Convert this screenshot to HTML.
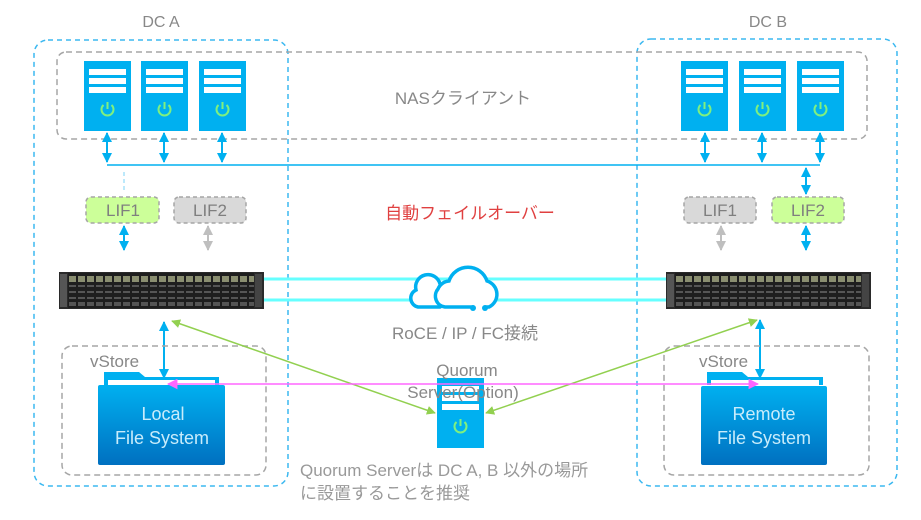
<!DOCTYPE html>
<html><head><meta charset="utf-8"><style>
html,body{margin:0;padding:0;background:#fff;}
svg{display:block;}
text{font-family:"Liberation Sans","Noto Sans CJK JP",sans-serif;}
</style></head><body>
<svg width="921" height="520" viewBox="0 0 921 520" xmlns="http://www.w3.org/2000/svg">
<defs>
  <marker id="ab" viewBox="0 0 10 10" refX="9" refY="5" markerWidth="5" markerHeight="5" orient="auto-start-reverse"><path d="M0,0L10,5L0,10z" fill="#00b0f0"/></marker>
  <marker id="ag" viewBox="0 0 10 10" refX="9" refY="5" markerWidth="5" markerHeight="5" orient="auto-start-reverse"><path d="M0,0L10,5L0,10z" fill="#bfbfbf"/></marker>
  <marker id="agr" viewBox="0 0 10 10" refX="9" refY="5" markerWidth="6" markerHeight="6" orient="auto-start-reverse"><path d="M0,0L10,5L0,10z" fill="#92d050"/></marker>
  <marker id="am" viewBox="0 0 10 10" refX="9" refY="5" markerWidth="7" markerHeight="7" orient="auto-start-reverse"><path d="M0,0L10,5L0,10z" fill="#ff66ff"/></marker>
  <linearGradient id="fg" x1="0" y1="0" x2="0" y2="1"><stop offset="0" stop-color="#00b0f0"/><stop offset="1" stop-color="#0070c0"/></linearGradient>
  <g id="srv">
    <rect x="0" y="0" width="47" height="70" fill="#00b0f0"/>
    <rect x="5" y="8" width="37" height="6" fill="#fff"/>
    <rect x="5" y="17" width="37" height="6" fill="#fff"/>
    <rect x="5" y="26" width="37" height="6" fill="#fff"/>
    <path d="M19.5,44 A6,6 0 1 0 27.5,44" fill="none" stroke="#7ff07f" stroke-width="2"/>
    <line x1="23.5" y1="41" x2="23.5" y2="48" stroke="#7ff07f" stroke-width="2"/>
  </g>
  <pattern id="disk" x="0" y="0" width="9" height="37" patternUnits="userSpaceOnUse">
    <rect width="9" height="37" fill="#1e1e1e"/>
    <rect x="1" y="4" width="7" height="6" fill="#8a8e70"/>
    <rect x="1" y="13" width="7" height="2" fill="#555"/>
    <rect x="1" y="19" width="7" height="2" fill="#555"/>
    <rect x="1" y="25" width="7" height="2" fill="#555"/>
    <rect x="1" y="30" width="7" height="4" fill="#555"/>
  </pattern>
  <g id="arr">
    <rect x="0" y="0" width="205" height="37" fill="#2a2a2a"/>
    <rect x="9" y="1" width="186" height="35" fill="url(#disk)"/>
    <rect x="1" y="2" width="7" height="33" fill="#555"/>
    <rect x="196" y="2" width="7" height="33" fill="#444"/>
  </g>
</defs>

<rect x="34" y="40" width="254" height="446" rx="14" fill="none" stroke="#3bb8f0" stroke-width="1.5" stroke-dasharray="5,4"/>
<rect x="637" y="39" width="260" height="447" rx="14" fill="none" stroke="#3bb8f0" stroke-width="1.5" stroke-dasharray="5,4"/>
<text x="161" y="27" font-size="16" fill="#888" text-anchor="middle">DC A</text>
<text x="768" y="27" font-size="16" fill="#888" text-anchor="middle">DC B</text>

<rect x="57" y="52" width="810" height="87" rx="9" fill="none" stroke="#a6a6a6" stroke-width="1.5" stroke-dasharray="6,4"/>
<text x="463" y="104" font-size="17" fill="#888" text-anchor="middle">NASクライアント</text>

<use href="#srv" x="84" y="61"/><use href="#srv" x="141" y="61"/><use href="#srv" x="199" y="61"/>
<use href="#srv" x="681" y="61"/><use href="#srv" x="739" y="61"/><use href="#srv" x="797" y="61"/>

<g stroke="#00b0f0" stroke-width="2" marker-start="url(#ab)" marker-end="url(#ab)">
  <line x1="107" y1="133" x2="107" y2="162"/><line x1="164" y1="133" x2="164" y2="162"/><line x1="222" y1="133" x2="222" y2="162"/>
  <line x1="705" y1="133" x2="705" y2="162"/><line x1="762" y1="133" x2="762" y2="162"/><line x1="820" y1="133" x2="820" y2="162"/>
  <line x1="806" y1="168" x2="806" y2="194"/>
  <line x1="124" y1="226" x2="124" y2="250"/><line x1="721" y1="226" x2="721" y2="250" stroke="#bfbfbf" marker-start="url(#ag)" marker-end="url(#ag)"/>
  <line x1="806" y1="226" x2="806" y2="250"/>
  <line x1="208" y1="226" x2="208" y2="250" stroke="#bfbfbf" marker-start="url(#ag)" marker-end="url(#ag)"/>
  <line x1="164" y1="322" x2="164" y2="378"/><line x1="760" y1="320" x2="760" y2="378"/>
</g>
<line x1="107" y1="165" x2="820" y2="165" stroke="#00b0f0" stroke-width="1.5"/>
<line x1="124" y1="172" x2="124" y2="190" stroke="#bde9fb" stroke-width="2" stroke-dasharray="4,3"/>

<rect x="86" y="197" width="73" height="26" rx="5" fill="#ccff99" stroke="#a6a6a6" stroke-width="1.5" stroke-dasharray="4,3"/>
<rect x="174" y="197" width="72" height="26" rx="5" fill="#d9d9d9" stroke="#a6a6a6" stroke-width="1.5" stroke-dasharray="4,3"/>
<rect x="684" y="197" width="72" height="26" rx="5" fill="#d9d9d9" stroke="#a6a6a6" stroke-width="1.5" stroke-dasharray="4,3"/>
<rect x="772" y="197" width="72" height="26" rx="5" fill="#ccff99" stroke="#a6a6a6" stroke-width="1.5" stroke-dasharray="4,3"/>
<g font-size="17" fill="#7f7f7f" text-anchor="middle">
<text x="123" y="216">LIF1</text><text x="210" y="216">LIF2</text><text x="720" y="216">LIF1</text><text x="808" y="216">LIF2</text>
</g>
<text x="470" y="219" font-size="17" fill="#e04040" text-anchor="middle">自動フェイルオーバー</text>

<line x1="264" y1="279" x2="666" y2="279" stroke="#66ffff" stroke-width="3"/>
<line x1="264" y1="300" x2="666" y2="300" stroke="#66ffff" stroke-width="3"/>
<g fill="#fff" stroke="#00b0f0" stroke-width="3.5" stroke-linecap="round">
  <path d="M440,307 L418,307 A9,9 0 0 1 416,290 A12,12 0 0 1 440,284"/>
  <path d="M473,307 L445,307 A11,11 0 0 1 438,289 A13,13 0 0 1 449,281 A20,20 0 0 1 487,281 A14,14 0 0 1 489,307 L486,307" fill="#fff"/>
</g>
<circle cx="473" cy="308" r="3" fill="#00b0f0"/><circle cx="485" cy="308" r="3" fill="#00b0f0"/>

<use href="#arr" x="59" y="272"/><use href="#arr" x="666" y="272"/>
<text x="465" y="339" font-size="17" fill="#888" text-anchor="middle">RoCE / IP / FC接続</text>

<rect x="62" y="346" width="204" height="129" rx="10" fill="none" stroke="#a6a6a6" stroke-width="1.5" stroke-dasharray="6,4"/>
<rect x="664" y="346" width="205" height="129" rx="10" fill="none" stroke="#a6a6a6" stroke-width="1.5" stroke-dasharray="6,4"/>
<text x="90" y="367" font-size="17" fill="#888">vStore</text>
<text x="699" y="367" font-size="17" fill="#888">vStore</text>

<g>
  <path d="M104,385 V372 H139 L145,377 H219 V385 Z" fill="#00b0f0"/>
  <rect x="108" y="380" width="107" height="5" fill="#fff"/>
  <rect x="98" y="385" width="127" height="80" rx="2" fill="url(#fg)"/>
  <path d="M707,385 V372 H742 L748,377 H823 V385 Z" fill="#00b0f0"/>
  <rect x="711" y="380" width="108" height="5" fill="#fff"/>
  <rect x="701" y="386" width="126" height="79" rx="2" fill="url(#fg)"/>
</g>
<g font-size="18" fill="#c8ecfb" text-anchor="middle">
<text x="163" y="420">Local</text><text x="162" y="444">File System</text>
<text x="764" y="420">Remote</text><text x="764" y="444">File System</text>
</g>

<use href="#srv" x="437" y="378"/>
<g font-size="17" fill="#888" text-anchor="middle">
<text x="467" y="376">Quorum</text><text x="463" y="398">Server(Option)</text>
</g>
<g stroke="#92d050" stroke-width="1.5" marker-start="url(#agr)" marker-end="url(#agr)">
  <line x1="172" y1="321" x2="435" y2="413"/>
  <line x1="486" y1="413" x2="757" y2="320"/>
</g>
<line x1="168" y1="384" x2="758" y2="384" stroke="#ff66ff" stroke-width="1.5" marker-start="url(#am)" marker-end="url(#am)"/>

<g font-size="17" fill="#999">
<text x="300" y="476">Quorum Serverは DC A, B 以外の場所</text>
<text x="300" y="499">に設置することを推奨</text>
</g>
</svg>
</body></html>
